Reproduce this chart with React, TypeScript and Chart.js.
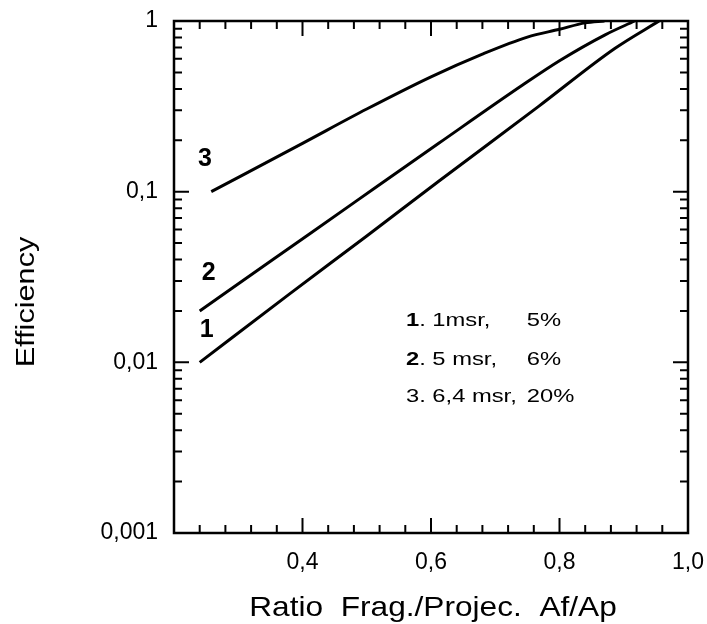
import React, { useEffect, useRef } from 'react';
import { Chart, registerables } from 'chart.js';

Chart.register(...registerables);

// ---- data ----
const X1 = [0.24, 0.38, 0.5, 0.612, 0.767, 0.886, 0.955];
const Y1 = [0.01, 0.0252, 0.055, 0.115, 0.315, 0.69, 1.0];
const X2 = [0.24, 0.354, 0.483, 0.612, 0.742, 0.8, 0.871, 0.917];
const Y2 = [0.02, 0.04, 0.0877, 0.192, 0.42, 0.585, 0.83, 1.0];
const X3 = [0.258, 0.4, 0.5, 0.6, 0.68, 0.75, 0.8, 0.84, 0.87];
const Y3 = [0.1, 0.192, 0.305, 0.471, 0.64, 0.805, 0.894, 0.975, 1.0];

const CURVE_NAMES = ['1', '2', '3'];
const CURVE_LABEL_X = [0.251, 0.254, 0.248];
const CURVE_LABEL_Y = [0.0155, 0.0334, 0.155];

const LEGEND_NUM = ['1', '2', '3'];
const LEGEND_DESC = ['. 1msr,', '. 5 msr,', '. 6,4 msr,'];
const LEGEND_PCT = ['5%', '6%', '20%'];
const LEGEND_BOLD = [true, true, false];
const LEGEND_Y = [0.0163, 0.00966, 0.00586];
const LEGEND_X = 0.561;
const LEGEND_PCT_X = 0.749;

const X_MIN = 0.2;
const X_MAX = 1.0;
const X_MINOR_STEP = 0.04;
const X_MAJOR_STEP = 0.2;
const Y_MIN = 0.001;
const Y_MAX = 1;
const Y_DECADES = [-3, -2, -1, 0];
const Y_MANTISSAS = [1, 2, 3, 4, 5, 6, 7, 8, 9];

const X_TITLE = 'Ratio  Frag./Projec.  Af/Ap';
const Y_TITLE = 'Efficiency';

const FONT = "'Liberation Sans', Arial, Helvetica, sans-serif";

const toPts = (xs: number[], ys: number[]) => xs.map((x, i) => ({ x, y: ys[i] }));

const isXMajor = (v: number) => Math.abs(v / X_MAJOR_STEP - Math.round(v / X_MAJOR_STEP)) < 1e-6;
const isYMajor = (v: number) => {
  const e = Math.log10(v);
  return Math.abs(e - Math.round(e)) < 1e-6;
};

const framePlugin = {
  id: 'frameAndText',
  afterDraw(chart: any) {
    const { ctx, chartArea } = chart;
    const { left, right, top, bottom } = chartArea;
    const xs = chart.scales.x;
    const ys = chart.scales.y;
    ctx.save();
    ctx.strokeStyle = '#000';
    ctx.lineCap = 'butt';
    // inward ticks on all four sides
    ctx.lineWidth = 2;
    xs.ticks.forEach((t: any) => {
      const px = xs.getPixelForValue(t.value);
      const len = isXMajor(t.value) ? 15 : 8;
      ctx.beginPath();
      ctx.moveTo(px, bottom);
      ctx.lineTo(px, bottom - len);
      ctx.moveTo(px, top);
      ctx.lineTo(px, top + len);
      ctx.stroke();
    });
    ys.ticks.forEach((t: any) => {
      const py = ys.getPixelForValue(t.value);
      const len = isYMajor(t.value) ? 15 : 8;
      ctx.beginPath();
      ctx.moveTo(left, py);
      ctx.lineTo(left + len, py);
      ctx.moveTo(right, py);
      ctx.lineTo(right - len, py);
      ctx.stroke();
    });
    // frame
    ctx.lineWidth = 2.5;
    ctx.strokeRect(left, top, right - left, bottom - top);

    ctx.fillStyle = '#000';
    // curve labels
    ctx.font = `bold 25px ${FONT}`;
    ctx.textAlign = 'center';
    ctx.textBaseline = 'middle';
    CURVE_NAMES.forEach((n, i) => {
      ctx.fillText(n, xs.getPixelForValue(CURVE_LABEL_X[i]), ys.getPixelForValue(CURVE_LABEL_Y[i]));
    });

    // legend text
    const SX = 1.25;
    ctx.textAlign = 'left';
    ctx.textBaseline = 'alphabetic';
    LEGEND_NUM.forEach((n, i) => {
      const px = xs.getPixelForValue(LEGEND_X);
      const py = ys.getPixelForValue(LEGEND_Y[i]);
      ctx.save();
      ctx.translate(px, py);
      ctx.scale(SX, 1);
      ctx.font = `${LEGEND_BOLD[i] ? 'bold ' : ''}19px ${FONT}`;
      ctx.fillText(n, 0, 0);
      const w = ctx.measureText(n).width;
      ctx.font = `19px ${FONT}`;
      ctx.fillText(LEGEND_DESC[i], w, 0);
      const pw = ctx.measureText(LEGEND_DESC[i]).width;
      const pctX = Math.max((xs.getPixelForValue(LEGEND_PCT_X) - px) / SX, w + pw + 5);
      ctx.fillText(LEGEND_PCT[i], pctX, 0);
      ctx.restore();
    });

    // x title
    ctx.save();
    ctx.translate((left + right) / 2 + 2, 608);
    ctx.scale(1.13, 1);
    ctx.font = `28px ${FONT}`;
    ctx.textAlign = 'center';
    ctx.textBaseline = 'middle';
    ctx.fillText(X_TITLE, 0, 0);
    ctx.restore();

    // y title
    ctx.save();
    ctx.translate(27, (top + bottom) / 2 + 25);
    ctx.rotate(-Math.PI / 2);
    ctx.scale(1.18, 1);
    ctx.font = `26px ${FONT}`;
    ctx.textAlign = 'center';
    ctx.textBaseline = 'middle';
    ctx.fillText(Y_TITLE, 0, 0);
    ctx.restore();

    ctx.restore();
  },
};

const zeroPadding = (scale: any) => {
  scale.paddingLeft = 0;
  scale.paddingRight = 0;
  scale.paddingTop = 0;
  scale.paddingBottom = 0;
};

export default function App() {
  const ref = useRef<HTMLCanvasElement | null>(null);

  useEffect(() => {
    if (!ref.current) return;
    const lineStyle = {
      borderColor: '#000',
      borderWidth: 3,
      pointRadius: 0,
      fill: false,
      cubicInterpolationMode: 'monotone' as const,
    };
    const chart = new Chart(ref.current, {
      type: 'line',
      data: {
        datasets: [
          { label: '1', data: toPts(X1, Y1), ...lineStyle },
          { label: '2', data: toPts(X2, Y2), ...lineStyle },
          { label: '3', data: toPts(X3, Y3), ...lineStyle },
        ],
      },
      options: {
        animation: false,
        responsive: false,
        devicePixelRatio: 1,
        layout: { padding: { top: 21, right: 19, left: 0, bottom: 0 } },
        plugins: {
          legend: { display: false },
          tooltip: { enabled: false },
        },
        scales: {
          x: {
            type: 'linear',
            min: X_MIN,
            max: X_MAX,
            grid: { display: false, drawTicks: false },
            border: { display: false },
            afterBuildTicks: (scale: any) => {
              const ticks: any[] = [];
              const n = Math.round((X_MAX - X_MIN) / X_MINOR_STEP);
              for (let k = 0; k <= n; k++) {
                ticks.push({ value: Math.round((X_MIN + k * X_MINOR_STEP) * 100) / 100 });
              }
              scale.ticks = ticks;
            },
            afterFit: (scale: any) => {
              scale.height = 91;
              zeroPadding(scale);
            },
            ticks: {
              autoSkip: false,
              maxRotation: 0,
              minRotation: 0,
              padding: 16,
              color: '#000',
              font: { family: FONT, size: 23 },
              callback: (v: any) => {
                const val = Number(v);
                if (!isXMajor(val) || val < X_MIN + 0.1) return '';
                return val.toFixed(1).replace('.', ',');
              },
            },
          },
          y: {
            type: 'logarithmic',
            min: Y_MIN,
            max: Y_MAX,
            grid: { display: false, drawTicks: false },
            border: { display: false },
            afterBuildTicks: (scale: any) => {
              const ticks: any[] = [];
              Y_DECADES.forEach((e) => {
                Y_MANTISSAS.forEach((m) => {
                  const v = m * Math.pow(10, e);
                  if (v <= Y_MAX * 1.0000001) ticks.push({ value: v });
                });
              });
              scale.ticks = ticks;
            },
            afterFit: (scale: any) => {
              scale.width = 174;
              zeroPadding(scale);
            },
            ticks: {
              autoSkip: false,
              padding: 16,
              color: '#000',
              font: { family: FONT, size: 23 },
              callback: (v: any) => {
                const val = Number(v);
                if (!isYMajor(val)) return '';
                const e = Math.round(Math.log10(val));
                if (e >= 0) return '1';
                return '0,' + '0'.repeat(-e - 1) + '1';
              },
            },
          },
        },
      },
      plugins: [framePlugin],
    });
    return () => chart.destroy();
  }, []);

  return (
    <div style={{ position: 'absolute', left: 0, top: 0, width: 707, height: 624, background: '#fff' }}>
      <canvas ref={ref} width={707} height={624} style={{ display: 'block' }} />
    </div>
  );
}
